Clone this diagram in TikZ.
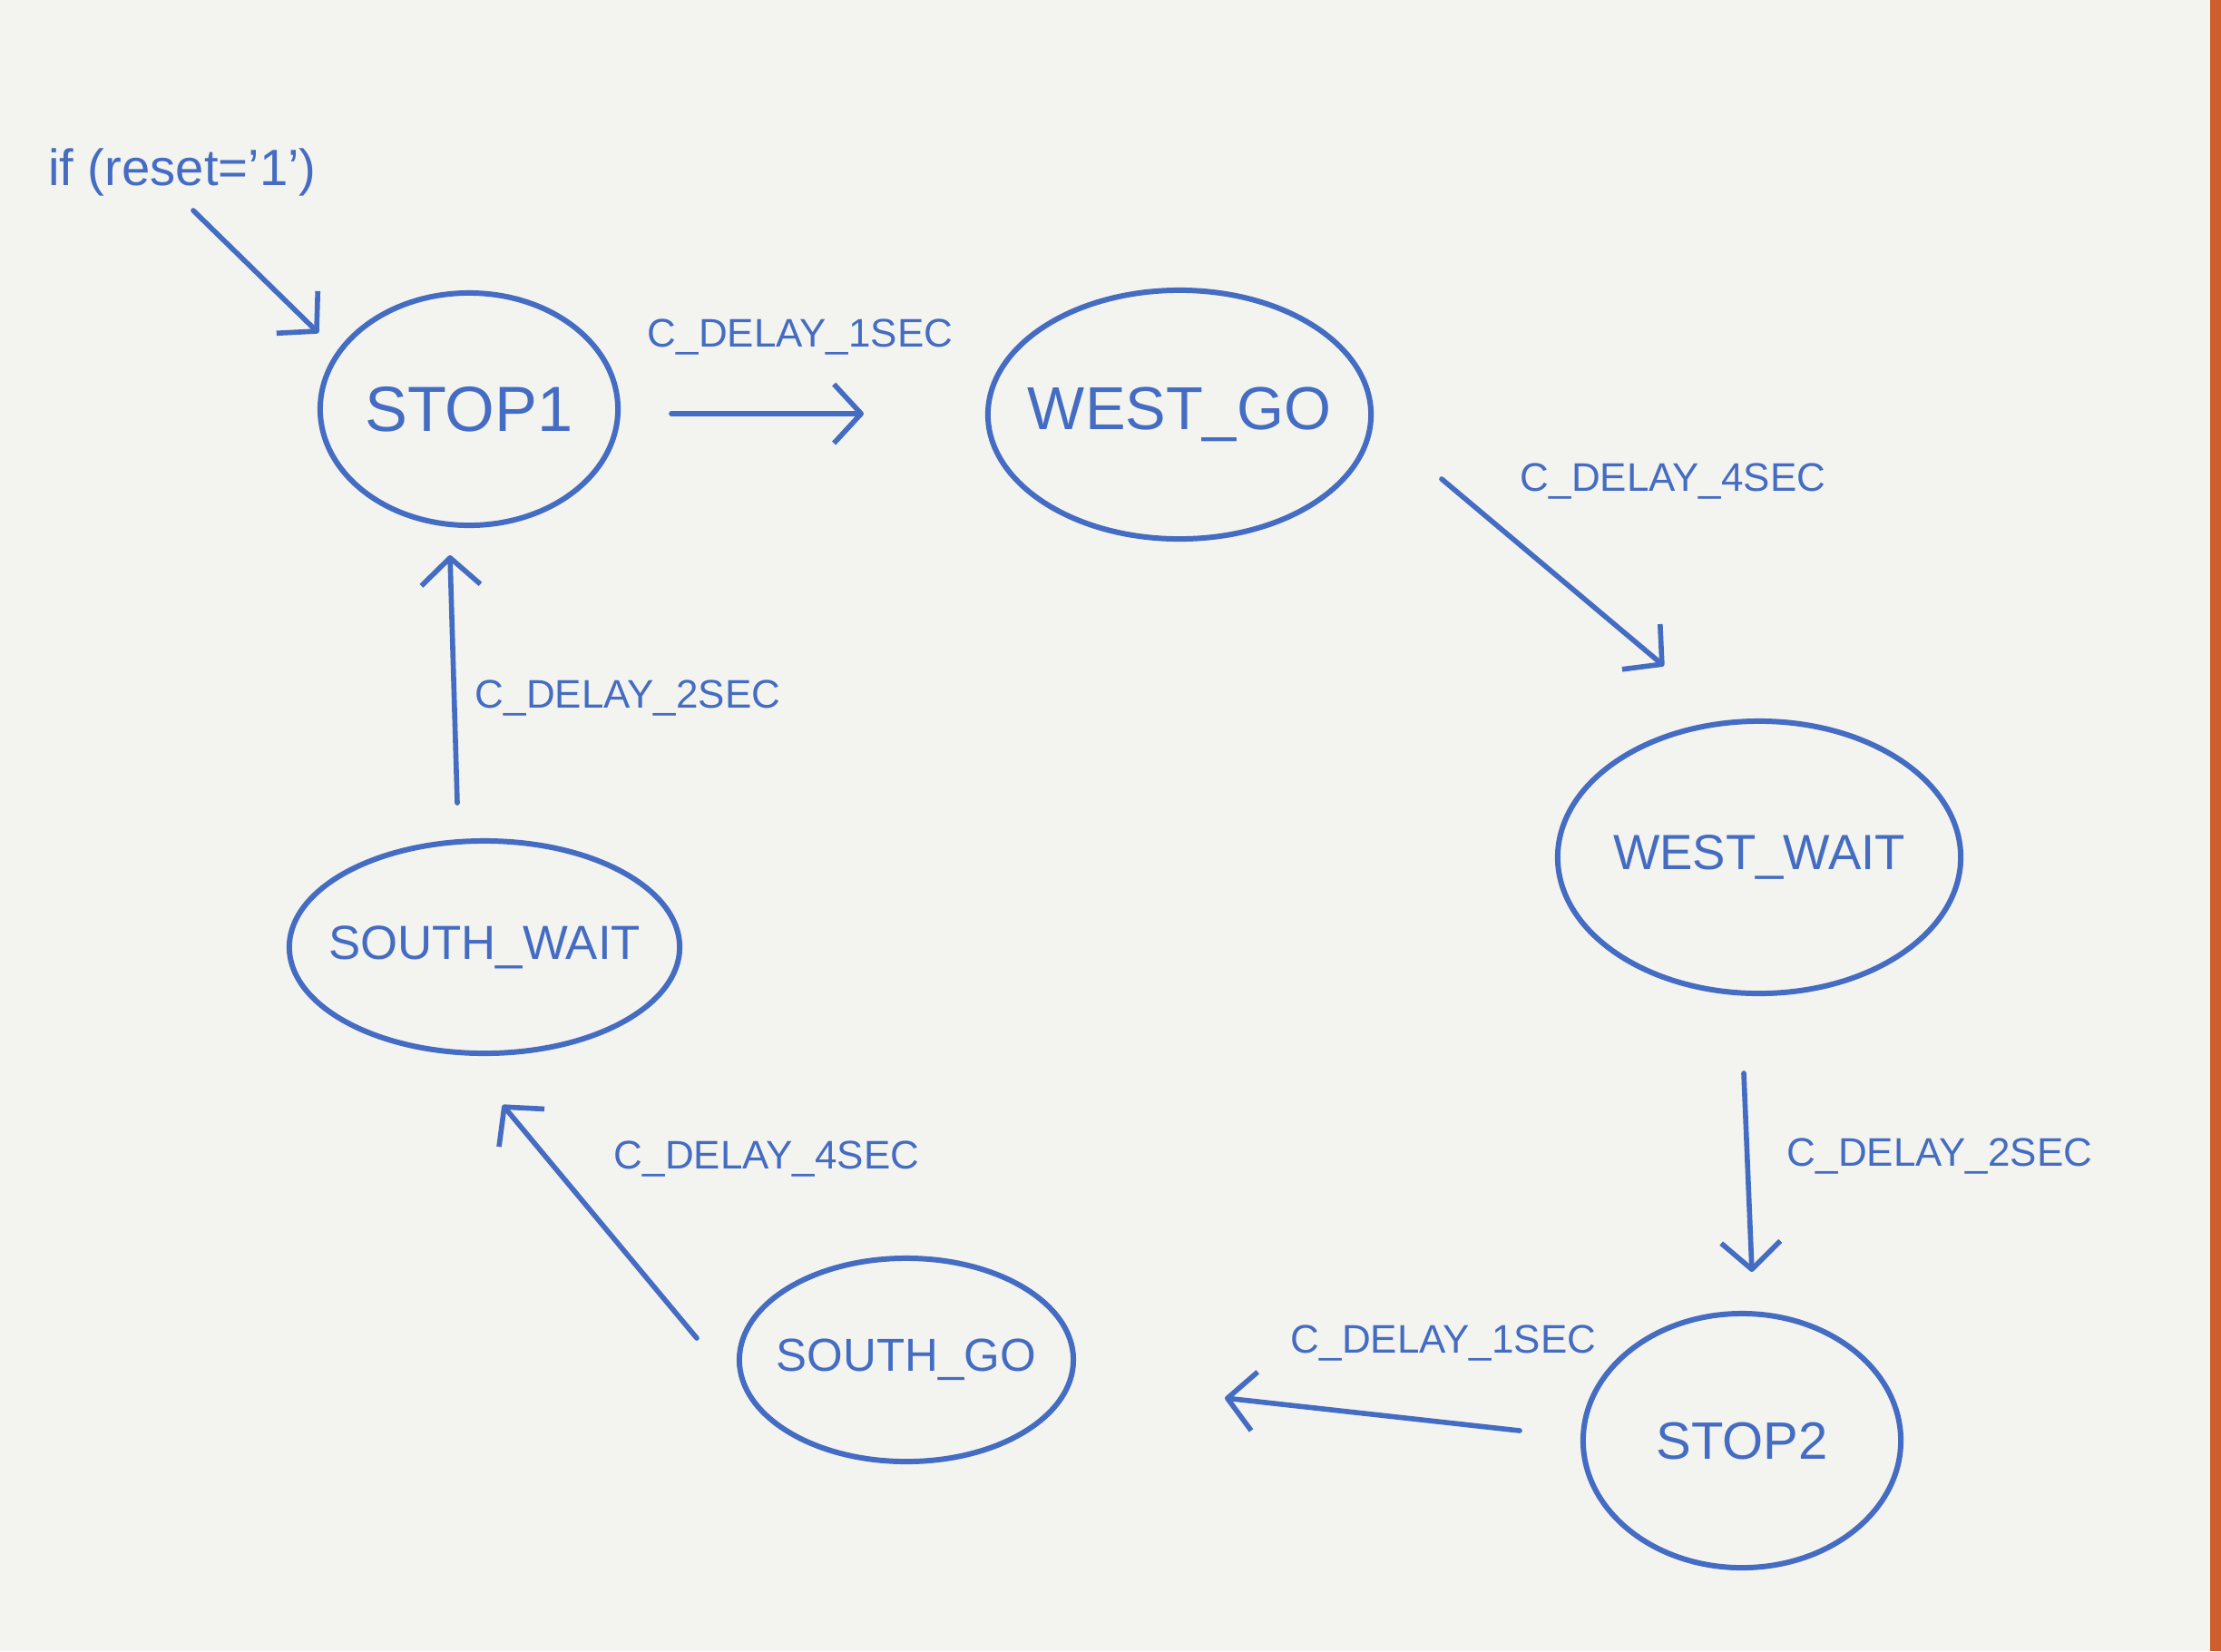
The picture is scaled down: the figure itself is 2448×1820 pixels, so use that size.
\documentclass[tikz,border=0pt]{standalone}
\usepackage{fontspec}
\setmainfont{Liberation Sans}
\usetikzlibrary{shapes.geometric,arrows.meta,calc}
\definecolor{pen}{RGB}{68,108,194}
\definecolor{paper}{RGB}{243,243,240}
\definecolor{edgeorange}{RGB}{205,95,45}
\begin{document}
\begin{tikzpicture}[x=0.01cm,y=-0.01cm,
  state/.style={ellipse,draw=pen,line width=1.7pt,inner xsep=-0.3cm,inner ysep=0pt,text=pen},
  arr/.style={draw=pen,line width=1.6pt,line cap=round,-{Straight Barb[length=3mm,width=6.5mm,line join=round]}},
  lbl/.style={text=pen,inner sep=1pt,font=\fontsize{12.5}{15}\selectfont}]
\fill[paper] (0,0) rectangle (2448,1820);
\fill[edgeorange] (2436,0) rectangle (2448,1820);
\useasboundingbox (0,0) rectangle (2448,1820);

% states
\node[state,minimum width=3.28cm,minimum height=2.56cm,font=\fontsize{20}{24}\selectfont] (stop1) at (517,451) {STOP1};
\node[state,minimum width=4.22cm,minimum height=2.74cm,font=\fontsize{19}{23}\selectfont] (wgo) at (1300,457) {WEST\_GO};
\node[state,minimum width=4.44cm,minimum height=3.00cm,font=\fontsize{15.5}{19}\selectfont] (wwait) at (1939,945) {WEST\_WAIT};
\node[state,minimum width=3.50cm,minimum height=2.80cm,font=\fontsize{16.5}{20}\selectfont] (stop2) at (1920,1588) {STOP2};
\node[state,minimum width=3.68cm,minimum height=2.24cm,font=\fontsize{14.5}{18}\selectfont] (sgo) at (999,1499) {SOUTH\_GO};
\node[state,minimum width=4.30cm,minimum height=2.34cm,font=\fontsize{15}{18}\selectfont] (swait) at (534,1044) {SOUTH\_WAIT};

% labels
\node[lbl,font=\fontsize{16}{19}\selectfont] (reset) at (201,190) {if (reset='1')};
\node[lbl] (l1) at (882,372) {C\_DELAY\_1SEC};
\node[lbl] (l2) at (1844,531) {C\_DELAY\_4SEC};
\node[lbl] (l3) at (692,770) {C\_DELAY\_2SEC};
\node[lbl] (l4) at (2138,1274) {C\_DELAY\_2SEC};
\node[lbl] (l5) at (845,1277) {C\_DELAY\_4SEC};
\node[lbl] (l6) at (1591,1480) {C\_DELAY\_1SEC};

% transitions
\draw[arr] ($(reset.center)+(12,42)$) -- ($(stop1.center)+(-166,-84)$);
\draw[arr] ($(stop1.center)+(223,5)$) -- ($(wgo.center)+(-348,-1)$);
\draw[arr] ($(wgo.center)+(289,71)$) -- ($(wwait.center)+(-105,-211)$);
\draw[arr] ($(wwait.center)+(-17,238)$) -- ($(stop2.center)+(11,-186)$);
\draw[arr] ($(stop2.center)+(-245,-11)$) -- ($(sgo.center)+(351,42)$);
\draw[arr] ($(sgo.center)+(-231,-24)$) -- ($(swait.center)+(20,174)$);
\draw[arr] ($(swait.center)+(-30,-159)$) -- ($(stop1.center)+(-21,161)$);
\end{tikzpicture}
\end{document}
